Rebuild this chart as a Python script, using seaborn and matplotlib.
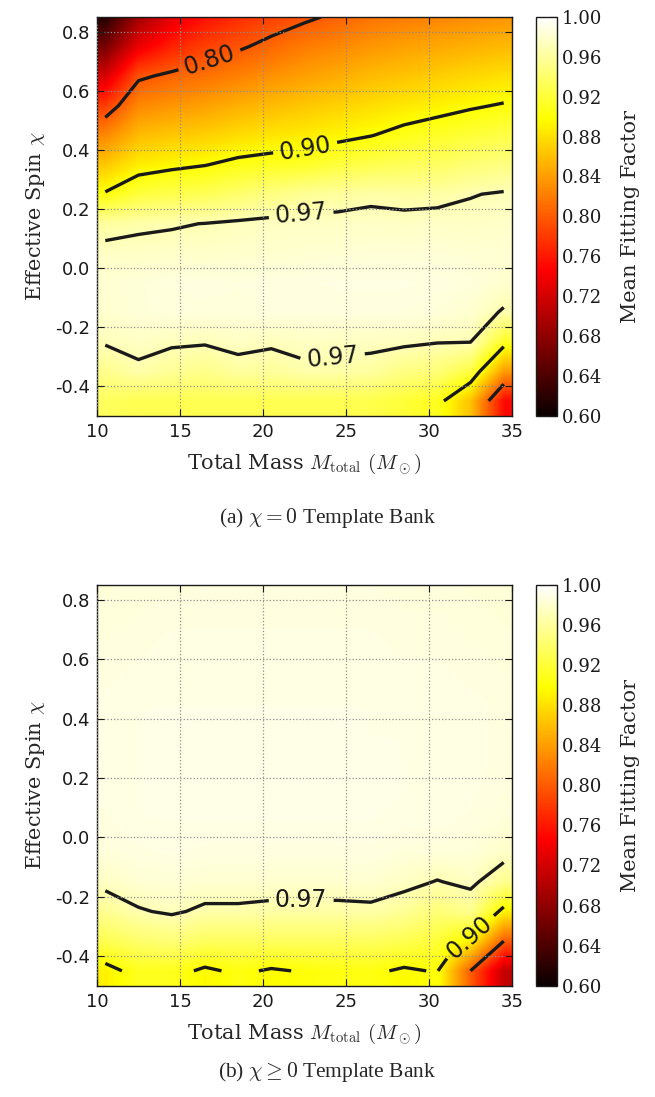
import numpy as np
import matplotlib
matplotlib.use("Agg")
import matplotlib.pyplot as plt
from matplotlib.ticker import FormatStrFormatter
import seaborn as sns

# ---------------- data ----------------
mass = [10.5, 12.5, 14.5, 16.5, 18.5, 20.5, 22.5, 24.5, 26.5, 28.5, 30.5, 32.5, 34.5]
spin = [0.85, 0.75, 0.65, 0.55, 0.45, 0.35, 0.25, 0.15, 0.05, -0.05, -0.15, -0.25, -0.35, -0.45]

# (a) chi = 0 template bank: mean fitting factor, rows = spin (top->bottom), cols = mass
ff_a = [
    [0.615, 0.690, 0.730, 0.755, 0.772, 0.785, 0.795, 0.805, 0.815, 0.820, 0.825, 0.830, 0.835],
    [0.665, 0.735, 0.766, 0.784, 0.796, 0.808, 0.820, 0.827, 0.836, 0.842, 0.847, 0.852, 0.857],
    [0.722, 0.795, 0.806, 0.814, 0.823, 0.833, 0.842, 0.849, 0.858, 0.863, 0.869, 0.875, 0.880],
    [0.782, 0.827, 0.835, 0.842, 0.851, 0.858, 0.865, 0.871, 0.879, 0.885, 0.891, 0.897, 0.902],
    [0.827, 0.858, 0.865, 0.870, 0.878, 0.883, 0.887, 0.893, 0.899, 0.908, 0.914, 0.920, 0.926],
    [0.865, 0.888, 0.894, 0.899, 0.907, 0.911, 0.914, 0.922, 0.929, 0.933, 0.937, 0.944, 0.950],
    [0.903, 0.922, 0.929, 0.932, 0.941, 0.950, 0.958, 0.961, 0.965, 0.963, 0.964, 0.969, 0.972],
    [0.962, 0.966, 0.968, 0.9705, 0.9735, 0.9755, 0.976, 0.976, 0.977, 0.976, 0.977, 0.976, 0.978],
    [0.976, 0.977, 0.978, 0.978, 0.979, 0.980, 0.981, 0.982, 0.983, 0.983, 0.983, 0.982, 0.982],
    [0.982, 0.984, 0.986, 0.987, 0.986, 0.987, 0.987, 0.988, 0.988, 0.988, 0.987, 0.985, 0.980],
    [0.980, 0.984, 0.985, 0.985, 0.985, 0.986, 0.986, 0.986, 0.986, 0.986, 0.984, 0.980, 0.968],
    [0.972, 0.976, 0.973, 0.972, 0.976, 0.973, 0.976, 0.975, 0.975, 0.974, 0.971, 0.9705, 0.912],
    [0.954, 0.966, 0.958, 0.953, 0.962, 0.960, 0.966, 0.965, 0.962, 0.950, 0.945, 0.924, 0.838],
    [0.935, 0.930, 0.930, 0.930, 0.930, 0.930, 0.930, 0.930, 0.928, 0.920, 0.910, 0.860, 0.750],
]

# (b) chi >= 0 template bank
ff_b = [
    [0.984, 0.985, 0.985, 0.986, 0.986, 0.986, 0.986, 0.986, 0.986, 0.985, 0.985, 0.984, 0.983],
    [0.985, 0.986, 0.987, 0.987, 0.987, 0.987, 0.987, 0.987, 0.987, 0.986, 0.986, 0.985, 0.984],
    [0.986, 0.987, 0.988, 0.988, 0.988, 0.988, 0.988, 0.988, 0.988, 0.987, 0.987, 0.986, 0.985],
    [0.987, 0.988, 0.988, 0.989, 0.989, 0.989, 0.989, 0.989, 0.988, 0.988, 0.988, 0.987, 0.986],
    [0.988, 0.989, 0.989, 0.989, 0.989, 0.989, 0.989, 0.989, 0.989, 0.989, 0.988, 0.988, 0.987],
    [0.988, 0.989, 0.990, 0.990, 0.990, 0.990, 0.990, 0.990, 0.989, 0.989, 0.989, 0.988, 0.987],
    [0.988, 0.989, 0.990, 0.990, 0.990, 0.990, 0.990, 0.990, 0.990, 0.989, 0.989, 0.988, 0.987],
    [0.988, 0.989, 0.990, 0.990, 0.990, 0.990, 0.990, 0.990, 0.990, 0.989, 0.989, 0.988, 0.986],
    [0.987, 0.989, 0.989, 0.989, 0.989, 0.989, 0.989, 0.989, 0.989, 0.988, 0.988, 0.987, 0.984],
    [0.985, 0.987, 0.988, 0.987, 0.987, 0.987, 0.987, 0.987, 0.987, 0.985, 0.985, 0.984, 0.978],
    [0.976, 0.982, 0.983, 0.981, 0.981, 0.980, 0.980, 0.980, 0.981, 0.976, 0.969, 0.975, 0.955],
    [0.956, 0.968, 0.973, 0.966, 0.966, 0.964, 0.964, 0.964, 0.965, 0.958, 0.945, 0.955, 0.890],
    [0.930, 0.940, 0.945, 0.935, 0.935, 0.935, 0.935, 0.935, 0.935, 0.930, 0.920, 0.890, 0.800],
    [0.890, 0.910, 0.910, 0.895, 0.905, 0.897, 0.902, 0.905, 0.905, 0.896, 0.902, 0.800, 0.710],
]

contour_levels = [0.80, 0.90, 0.97]
cbar_ticks = [0.60, 0.64, 0.68, 0.72, 0.76, 0.80, 0.84, 0.88, 0.92, 0.96, 1.00]
x_ticks = [10, 15, 20, 25, 30, 35]
y_ticks = [-0.4, -0.2, 0.0, 0.2, 0.4, 0.6, 0.8]
captions = [r"(a) $\chi = 0$ Template Bank", r"(b) $\chi \geq 0$ Template Bank"]

# label anchor points for the contour labels (layout only)
label_pos_a = [(16.8, 0.70), (22.6, 0.39), (22.3, 0.18), (24.2, -0.31)]
label_pos_b = [(22.3, -0.215), (32.4, -0.33)]

# ---------------- style ----------------
sns.set_theme(style="white")
plt.rcParams["font.family"] = ["DejaVu Sans"]
plt.rcParams["mathtext.fontset"] = "cm"
cmap = sns.color_palette("hot", as_cmap=True)

W, H = 655, 1097
fig = plt.figure(figsize=(W / 100, H / 100), dpi=100)

def fx(p):
    return p / W

def fy(p):
    return 1 - p / H

panels = [
    (ff_a, label_pos_a, 17.0, 415.7, 518),
    (ff_b, label_pos_b, 585.0, 985.7, 1072),
]

for i, (ff, lpos, top, bot, cap_y) in enumerate(panels):
    ax = fig.add_axes([fx(97), fy(bot), fx(512) - fx(97), (bot - top) / H])
    Z = np.array(ff)
    im = ax.imshow(Z, cmap=cmap, vmin=0.6, vmax=1.0, origin="upper",
                   extent=(9.5, 35.5, -0.5, 0.9), aspect="auto",
                   interpolation="bilinear", zorder=0)
    cs = ax.contour(mass, spin, Z, levels=contour_levels, colors="k",
                    linewidths=2.4, zorder=2)
    ax.clabel(cs, fmt="%.2f", fontsize=17, inline=True, inline_spacing=5,
              manual=lpos)
    ax.set_xlim(10, 35)
    ax.set_ylim(-0.5, 0.85)
    ax.set_xticks(x_ticks)
    ax.set_yticks(y_ticks)
    ax.yaxis.set_major_formatter(FormatStrFormatter("%.1f"))
    ax.tick_params(direction="in", top=True, right=True, bottom=True, left=True,
                   length=5, width=0.8, labelsize=13, colors="k", pad=5)
    ax.grid(True, linestyle=":", color="0.55", linewidth=0.9)
    ax.set_axisbelow(False)
    for s in ax.spines.values():
        s.set_edgecolor("k")
        s.set_linewidth(1.0)
    ax.set_xlabel(r"Total Mass $M_{\rm total}$ $(M_\odot)$", family="DejaVu Serif",
                  fontsize=15, labelpad=8)
    ax.set_ylabel(r"Effective Spin $\chi$", family="DejaVu Serif", fontsize=15,
                  labelpad=6)

    cax = fig.add_axes([fx(536), fy(bot), fx(556.7) - fx(536), (bot - top) / H])
    cb = fig.colorbar(im, cax=cax, ticks=cbar_ticks)
    cb.ax.yaxis.set_major_formatter(FormatStrFormatter("%.2f"))
    cb.ax.tick_params(direction="in", length=5, width=0.8, labelsize=13,
                      labelfontfamily="DejaVu Serif", colors="k", right=True)
    cb.outline.set_edgecolor("k")
    cb.outline.set_linewidth(1.0)
    cb.set_label("Mean Fitting Factor", family="DejaVu Serif", fontsize=15,
                 labelpad=14)

    fig.text(0.5, fy(cap_y), captions[i], family="Liberation Serif", fontsize=15.5,
             ha="center", va="center")

fig.savefig("out.png", dpi=100)
